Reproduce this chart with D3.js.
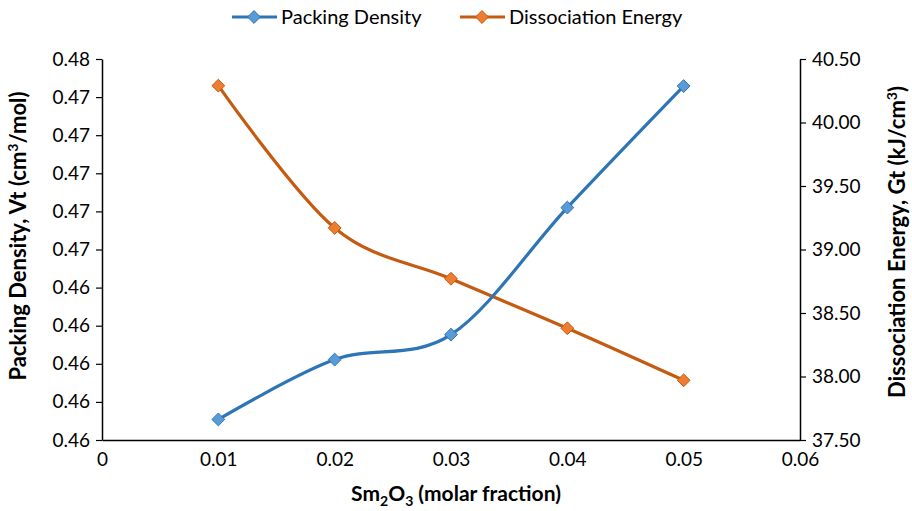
<!DOCTYPE html>
<html>
<head>
<meta charset="utf-8">
<script src="https://cdn.jsdelivr.net/npm/d3@7"></script>
<style>
  body { margin: 0; background: #fff; }
  svg { font-family: Lato, "Open Sans", sans-serif; }
</style>
</head>
<body>
<div id="chart"></div>
<script>
// data
var fractions = [0.01, 0.02, 0.03, 0.04, 0.05];
var packingDensity = [0.45708, 0.46022, 0.46153, 0.46820, 0.47458];
var dissociationEnergy = [40.29, 39.17, 38.77, 38.38, 37.97];

var xTicks = [0, 0.01, 0.02, 0.03, 0.04, 0.05, 0.06];
var leftTicks = [0.456, 0.458, 0.460, 0.462, 0.464, 0.466, 0.468, 0.470, 0.472, 0.474, 0.476];
var leftTickLabels = ["0.46", "0.46", "0.46", "0.46", "0.46", "0.47", "0.47", "0.47", "0.47", "0.47", "0.48"];
var rightTicks = [37.5, 38.0, 38.5, 39.0, 39.5, 40.0, 40.5];

var width = 912, height = 511;
var m = { left: 102, right: 800, top: 59, bottom: 440 };

var blue = "#2E75B6", blueFill = "#5B9BD5";
var orange = "#C55A11", orangeFill = "#ED7D31";

var svg = d3.select("#chart").append("svg")
  .attr("width", width)
  .attr("height", height);

var x = d3.scaleLinear().domain([0, 0.06]).range([m.left, m.right]);
var yL = d3.scaleLinear().domain([0.456, 0.476]).range([m.bottom, m.top]);
var yR = d3.scaleLinear().domain([37.5, 40.5]).range([m.bottom, m.top]);

// axes
var xAxis = svg.append("g")
  .attr("transform", "translate(0," + m.bottom + ")")
  .call(d3.axisBottom(x).tickValues(xTicks).tickSize(0).tickPadding(13)
    .tickFormat(function(d) { return d === 0 ? "0" : d3.format(".2f")(d); }));
xAxis.select(".domain").attr("stroke", "#000").attr("stroke-width", 1.5);

var lAxis = svg.append("g")
  .attr("transform", "translate(" + m.left + ",0)")
  .call(d3.axisLeft(yL).tickValues(leftTicks).tickSizeOuter(0).tickSizeInner(6).tickPadding(6)
    .tickFormat(function(d, i) { return leftTickLabels[i]; }));
lAxis.select(".domain").attr("stroke", "#000").attr("stroke-width", 1.5);

var rAxis = svg.append("g")
  .attr("transform", "translate(" + m.right + ",0)")
  .call(d3.axisRight(yR).tickValues(rightTicks).tickSizeOuter(0).tickSizeInner(6).tickPadding(6)
    .tickFormat(d3.format(".2f")));
rAxis.select(".domain").attr("stroke", "#000").attr("stroke-width", 1.5);

svg.selectAll(".tick line").attr("stroke", "#000").attr("stroke-width", 1.2);
svg.selectAll(".tick text")
  .attr("fill", "#000")
  .style("font-size", "19px")
  .style("font-family", "Lato, sans-serif");

// lines
var bluePts = fractions.map(function(f, i) { return [x(f), yL(packingDensity[i])]; });
var orangePts = fractions.map(function(f, i) { return [x(f), yR(dissociationEnergy[i])]; });

var line = d3.line().curve(d3.curveCatmullRom.alpha(0));

svg.append("path").attr("d", line(orangePts))
  .attr("fill", "none").attr("stroke", orange).attr("stroke-width", 3.2);
svg.append("path").attr("d", line(bluePts))
  .attr("fill", "none").attr("stroke", blue).attr("stroke-width", 3.2);

var diamond = d3.symbol().type(d3.symbolDiamond2).size(105);

function markers(pts, fill, stroke) {
  svg.append("g").selectAll("path")
    .data(pts)
    .enter()
    .append("path")
    .attr("d", diamond)
    .attr("transform", function(d) { return "translate(" + d[0] + "," + d[1] + ")"; })
    .attr("fill", fill)
    .attr("stroke", stroke)
    .attr("stroke-width", 1);
}
markers(orangePts, orangeFill, orange);
markers(bluePts, blueFill, blue);

// legend
var legend = [
  { name: "Packing Density", color: blue, fill: blueFill, x: 232 },
  { name: "Dissociation Energy", color: orange, fill: orangeFill, x: 460 }
];
var lg = svg.append("g").selectAll("g")
  .data(legend)
  .enter()
  .append("g")
  .attr("transform", function(d) { return "translate(" + d.x + ",17)"; });
lg.append("line")
  .attr("x1", 0).attr("x2", 45)
  .attr("stroke", function(d) { return d.color; })
  .attr("stroke-width", 3.2);
lg.append("path")
  .attr("d", diamond)
  .attr("transform", "translate(22,0)")
  .attr("fill", function(d) { return d.fill; })
  .attr("stroke", function(d) { return d.color; });
lg.append("text")
  .attr("x", 49).attr("dy", "0.36em")
  .style("font-size", "20px")
  .text(function(d) { return d.name; });

// axis titles
var xt = svg.append("text")
  .attr("x", 456).attr("y", 501)
  .attr("text-anchor", "middle")
  .style("font-size", "21px").style("font-weight", "bold");
xt.append("tspan").text("Sm");
xt.append("tspan").attr("dy", 5).style("font-size", "14px").text("2");
xt.append("tspan").attr("dy", -5).text("O");
xt.append("tspan").attr("dy", 5).style("font-size", "14px").text("3");
xt.append("tspan").attr("dy", -5).text(" (molar fraction)");

function yTitle(tx, ty, before, after) {
  var t = svg.append("text")
    .attr("transform", "translate(" + tx + "," + ty + ") rotate(-90)")
    .attr("text-anchor", "middle")
    .style("font-size", "22px").style("font-weight", "bold");
  t.append("tspan").text(before);
  t.append("tspan").attr("dy", -8).style("font-size", "14px").text("3");
  t.append("tspan").attr("dy", 8).text(after);
}
yTitle(26, 236, "Packing Density, Vt (cm", "/mol)");
yTitle(905, 242, "Dissociation Energy, Gt (kJ/cm", ")");
</script>
</body>
</html>
